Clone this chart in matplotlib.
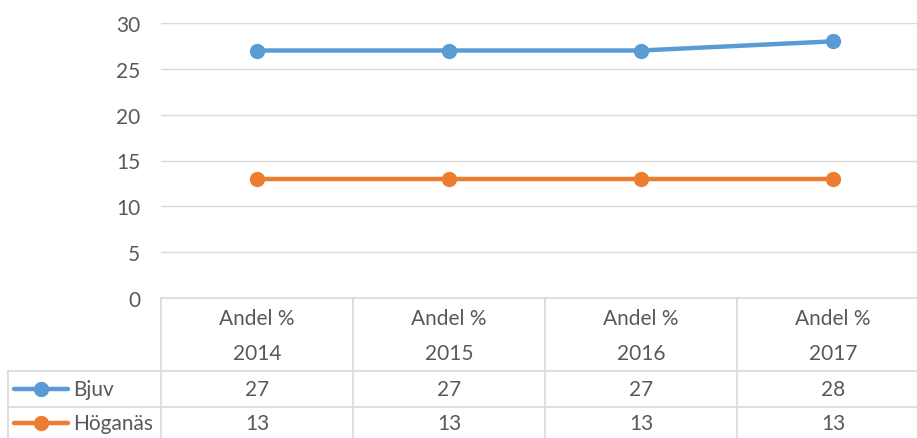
import matplotlib
matplotlib.use("Agg")
import matplotlib.pyplot as plt
from matplotlib.lines import Line2D
import matplotlib.transforms as mtransforms

years = ["2014", "2015", "2016", "2017"]
header = "Andel %"
series_names = ["Bjuv", "Höganäs"]
bjuv = [27, 27, 27, 28]
hoganas = [13, 13, 13, 13]
series_values = [bjuv, hoganas]
colors = ["#5B9BD5", "#ED7D31"]
yticks = [0, 5, 10, 15, 20, 25, 30]

TEXT = "#595959"
GRID = "#D9D9D9"
W, H = 917, 439
plt.rcParams["font.family"] = ["Lato", "DejaVu Sans"]


def fx(px):
    return px / W


def fy(py):
    return 1 - py / H


fig = plt.figure(figsize=(W / 100, H / 100), dpi=100)
fig.patch.set_facecolor("white")

# plot area: 161..929 px wide (cut off at figure edge), y 24..299 px
ax = fig.add_axes([fx(161), fy(299), fx(929 - 161), (299 - 24) / H])
x = list(range(len(years)))
for vals, c in zip(series_values, colors):
    ax.plot(x, vals, color=c, lw=3.2, marker="o", ms=10, solid_capstyle="round", zorder=3)
ax.set_xlim(-0.5, len(years) - 0.5)
ax.set_ylim(0, 30)
ax.set_yticks(yticks)
ax.yaxis.grid(True, color=GRID, lw=1)
ax.set_axisbelow(True)
for s in ax.spines.values():
    s.set_visible(False)
fs = 15
ax.tick_params(axis="y", length=0, pad=15, labelsize=fs, labelcolor=TEXT)
ax.tick_params(axis="x", length=0, labelbottom=False)

# data table below the plot
tr = mtransforms.blended_transform_factory(ax.transData, fig.transFigure)
col_w_px = 768 / len(years)
left_data = -0.5 - (161 - 8) / col_w_px
row_top, row_head, row_1, row_2 = 299, 372, 408, 444

def hline(x0, x1, py):
    fig.add_artist(Line2D([x0, x1], [fy(py), fy(py)], transform=tr, color=GRID, lw=1.2))

def vline(xd, py0, py1):
    fig.add_artist(Line2D([xd, xd], [fy(py0), fy(py1)], transform=tr, color=GRID, lw=1.2))

hline(-0.5, len(years) - 0.5, row_top)
hline(left_data, len(years) - 0.5, row_head)
hline(left_data, len(years) - 0.5, row_1)
hline(left_data, len(years) - 0.5, row_2)
for i in range(len(years) + 1):
    vline(i - 0.5, row_top, row_2)
vline(left_data, row_head, row_2)

for i, yr in enumerate(years):
    fig.text(i, fy(319), header, transform=tr, ha="center", va="center", fontsize=fs, color=TEXT)
    fig.text(i, fy(354), yr, transform=tr, ha="center", va="center", fontsize=fs, color=TEXT)

row_centers = [390, 424]
for name, vals, c, yc in zip(series_names, series_values, colors, row_centers):
    fig.add_artist(Line2D([fx(14), fx(68)], [fy(yc), fy(yc)], transform=fig.transFigure,
                          color=c, lw=3.2, solid_capstyle="round"))
    fig.add_artist(Line2D([fx(41)], [fy(yc)], transform=fig.transFigure,
                          color=c, marker="o", ms=10, lw=0))
    fig.text(fx(73), fy(yc), name, ha="left", va="center", fontsize=fs, color=TEXT)
    for i, v in enumerate(vals):
        fig.text(i, fy(yc), str(v), transform=tr, ha="center", va="center", fontsize=fs, color=TEXT)

fig.savefig("out.png", dpi=100, facecolor="white")
